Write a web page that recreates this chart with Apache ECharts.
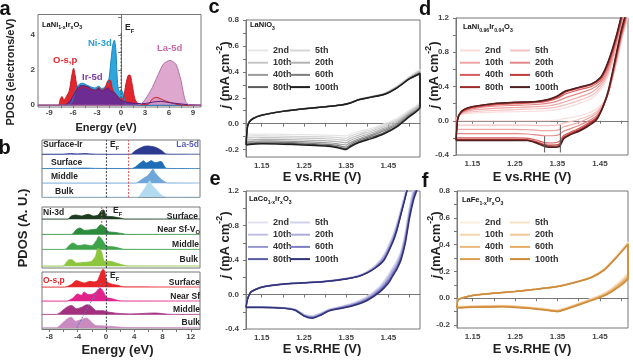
<!DOCTYPE html>
<html><head><meta charset="utf-8">
<script src="https://cdn.jsdelivr.net/npm/echarts@6/dist/echarts.min.js"></script>
<style>html,body{margin:0;padding:0;background:#fff}#c{width:633px;height:361px}</style>
</head><body><div id="c"></div><script>
// ---------------- DATA ----------------
// Panel a: PDOS (electrons/eV) vs energy (eV)
const aOsp = [[-10.4,0],[-7.9,0],[-7.6,0.35],[-7.4,0.5],[-7.15,0.3],[-6.85,0.5],[-6.5,0.8],[-6.2,1.6],[-5.95,2.1],[-5.75,1.7],[-5.5,1.05],[-5.2,0.95],[-4.8,1.05],[-4.3,1.0],[-3.8,0.9],[-3.3,0.85],[-2.8,1.0],[-2.4,0.85],[-2.0,1.0],[-1.65,1.4],[-1.35,1.42],[-1.1,0.95],[-0.8,0.7],[-0.4,0.5],[0,0.35],[0.3,0.45],[0.6,1.2],[0.9,1.7],[1.1,1.72],[1.4,1.15],[1.7,0.4],[2.1,0.1],[2.6,0.04],[3.4,0.06],[3.9,0.35],[4.4,0.45],[4.9,0.38],[5.5,0.25],[6.2,0.15],[7,0.05],[8,0],[10,0]];
const aNi3d = [[-10.4,0],[-6.6,0],[-6.1,0.25],[-5.6,1.0],[-5.2,1.2],[-4.8,1.25],[-4.3,1.15],[-3.8,1.05],[-3.3,0.98],[-2.8,1.08],[-2.4,0.95],[-2.0,1.05],[-1.6,1.3],[-1.3,2.4],[-1.05,3.4],[-0.85,3.7],[-0.65,3.1],[-0.45,1.3],[-0.25,0.8],[0.05,0.85],[0.3,0.6],[0.5,0.15],[0.8,0],[10,0]];
const aIr5d = [[-10.4,0],[-7.1,0],[-6.7,0.12],[-6.3,0.3],[-5.8,0.7],[-5.4,1.0],[-5.0,1.12],[-4.5,1.1],[-4.0,1.02],[-3.6,0.9],[-3.2,0.85],[-2.8,0.95],[-2.4,0.8],[-2.0,0.9],[-1.6,0.98],[-1.3,0.82],[-1.0,0.75],[-0.6,0.6],[-0.3,0.4],[0,0.28],[0.5,0.2],[1,0.15],[2,0.1],[3,0.1],[4,0.18],[5,0.22],[6,0.15],[7,0.1],[8,0.05],[9,0.02],[10,0]];
const aLa5d = [[-10.4,0],[1.8,0],[2.4,0.05],[2.9,0.25],[3.4,0.6],[3.9,1.0],[4.4,1.5],[4.9,2.0],[5.3,2.35],[5.7,2.48],[6.1,2.55],[6.5,2.48],[6.9,2.3],[7.2,1.9],[7.5,1.4],[7.8,0.7],[8.1,0.2],[8.5,0.03],[10,0]];
const aEF = [[0,0],[0,4.1]];
const aXTicks = [-9,-7.5,-6,-4.5,-3,-1.5,0,1.5,3,4.5,6,7.5,9];
const aXLabels = [-9,-6,-3,0,3,6,9];
const aYTicks = [0,1,2,3,4,5];
const aYLabels = [0,2,4];

// Panel b: layer-resolved PDOS (A.U.)
const bLaSurfIr = [[-9.05,0.3],[-6,0.4],[-5,0.9],[-4,0.6],[-3,1.0],[-2,0.5],[-1,0.3],[1,0.2],[3.2,0.3],[3.6,0.6],[4.0,3.0],[4.5,5.2],[5.0,7.0],[5.5,8.3],[6.0,8.5],[6.5,8.0],[7.0,7.2],[7.5,5.5],[8.0,3.2],[8.5,0.6],[9.5,0.3],[13.3,0.3]];
const bLaSurf = [[-9.05,0.3],[-5,0.4],[-3,0.7],[-1.5,0.4],[3.5,0.3],[3.8,0.5],[4.2,2.0],[4.6,4.5],[5.0,6.5],[5.3,8.0],[5.7,5.8],[6.1,7.0],[6.4,8.2],[6.8,6.5],[7.1,6.2],[7.5,7.0],[7.8,7.3],[8.2,3.5],[8.5,0.6],[9.5,0.3],[13.3,0.3]];
const bLaMid = [[-9.05,0.3],[4.2,0.3],[4.8,2.5],[5.3,5.0],[5.8,7.0],[6.2,10.0],[6.65,14.0],[6.9,11.0],[7.3,7.5],[7.8,4.0],[8.3,1.5],[8.7,0.4],[13.3,0.3]];
const bLaBulk = [[-9.05,0.3],[4.5,0.3],[5.0,4.0],[5.5,9.0],[5.9,14.0],[6.2,16.5],[6.5,12.0],[7.0,8.5],[7.5,4.5],[8.0,1.5],[8.5,0.4],[13.3,0.3]];
const bNiSurf = [[-9.05,0.3],[-5.4,0.3],[-4.9,3.3],[-4.2,4.3],[-3.5,3.3],[-2.5,5.0],[-1.8,3.3],[-1.1,4.3],[-0.65,8.7],[-0.32,9.3],[0.06,3.3],[0.77,2.7],[1.47,2.0],[2.18,1.0],[2.65,0.3],[13.3,0.3]];
const bNiNear = [[-9.05,0.3],[-4.9,0.3],[-4.2,5.0],[-3.7,6.7],[-3.0,4.3],[-2.06,5.0],[-1.35,5.7],[-0.74,10.0],[-0.18,7.7],[0.3,3.3],[1.24,2.3],[2.42,1.0],[2.9,0.3],[13.3,0.3]];
const bNiMid = [[-9.05,0.3],[-5.85,0.3],[-5.1,5.0],[-4.65,6.7],[-3.95,4.0],[-3.0,5.0],[-2.06,4.0],[-1.35,9.3],[-1.02,13.3],[-0.55,10.0],[0.06,4.0],[1.24,2.7],[2.65,0.4],[13.3,0.3]];
const bNiBulk = [[-9.05,0.3],[-6.1,0.3],[-5.36,6.0],[-4.89,6.7],[-4.18,3.3],[-3.0,4.0],[-2.06,5.0],[-1.49,10.0],[-1.12,18.0],[-0.65,15.0],[-0.18,5.0],[0.53,5.0],[1.71,2.7],[3.1,0.4],[13.3,0.3]];
const bOSurf = [[-9.05,0.3],[-5.85,0.3],[-4.9,2.7],[-4.2,6.7],[-3.57,5.3],[-3.0,4.3],[-2.3,6.0],[-1.68,5.3],[-1.21,6.7],[-0.84,12.7],[-0.41,18.0],[-0.18,16.0],[0.1,6.0],[0.77,3.3],[1.71,2.0],[2.42,0.5],[13.3,0.3]];
const bONear = [[-9.05,0.3],[-5.6,0.3],[-4.65,3.3],[-4.04,7.3],[-3.48,6.0],[-3.1,9.3],[-2.53,6.7],[-1.82,7.3],[-1.21,10.7],[-0.84,13.3],[-0.41,10.0],[0.06,4.0],[0.77,2.7],[2.18,0.4],[13.3,0.3]];
const bOMid = [[-9.05,0.3],[-7.0,0.3],[-6.3,3.3],[-5.6,7.3],[-4.89,9.3],[-4.18,6.0],[-3.48,7.3],[-2.63,10.0],[-2.06,8.3],[-1.35,4.0],[-0.41,4.0],[0.3,2.7],[1.71,1.3],[3.6,0.8],[6.9,1.7],[9.3,0.3],[13.3,0.3]];
const bOBulk = [[-9.05,0.3],[-7.0,0.3],[-6.3,4.0],[-5.45,9.3],[-4.89,10.7],[-4.32,6.7],[-3.57,8.3],[-2.77,10.0],[-2.06,6.0],[-1.49,2.7],[-0.18,2.0],[1.71,1.0],[3.1,0.4],[13.3,0.3]];
const bEFLine = 0.06;
const bRedLa = 3.2;
const bRedNi = -0.6;
const bBlueSlant = [[-0.65,46],[-4.2,0.5]];
const bXTicks = [-8,-6,-4,-2,0,2,4,6,8,10,12];
const bXLabels = [-8,-4,0,4,8,12];

// CV panels c-f : j (mA cm-2) vs E (V vs RHE)
const cycles = ['2nd','5th','10th','20th','40th','60th','80th','100th'];
const cE = [1.113,1.116,1.12,1.13,1.15,1.2,1.25,1.3,1.34,1.36,1.38,1.41,1.44,1.47,1.5,1.525,
            1.525,1.5,1.47,1.44,1.41,1.38,1.36,1.35,1.33,1.3,1.25,1.2,1.15,1.12,1.113];
const c2nd  = [-0.08,-0.02,0.015,0.045,0.07,0.098,0.117,0.132,0.147,0.163,0.19,0.212,0.235,0.29,0.365,0.42, 0.17,0.105,0.04,0.0,-0.035,-0.06,-0.08,-0.095,-0.09,-0.088,-0.085,-0.082,-0.08,-0.08,-0.08];
const c5th  = [-0.095,-0.022,0.014,0.044,0.069,0.097,0.117,0.132,0.147,0.162,0.189,0.21,0.233,0.287,0.36,0.413, 0.162,0.097,0.03,-0.01,-0.047,-0.074,-0.096,-0.113,-0.106,-0.102,-0.099,-0.096,-0.094,-0.095,-0.095];
const c10th = [-0.11,-0.024,0.013,0.043,0.068,0.097,0.116,0.131,0.146,0.162,0.188,0.209,0.231,0.284,0.356,0.407, 0.154,0.089,0.02,-0.022,-0.058,-0.088,-0.113,-0.13,-0.122,-0.116,-0.112,-0.109,-0.107,-0.11,-0.11];
const c20th = [-0.125,-0.026,0.012,0.042,0.067,0.096,0.116,0.131,0.146,0.161,0.187,0.208,0.229,0.281,0.353,0.401, 0.146,0.081,0.01,-0.034,-0.072,-0.103,-0.13,-0.148,-0.139,-0.131,-0.126,-0.122,-0.12,-0.125,-0.125];
const c40th = [-0.138,-0.027,0.011,0.041,0.066,0.096,0.115,0.13,0.145,0.161,0.186,0.207,0.228,0.279,0.35,0.396, 0.139,0.074,0.0,-0.045,-0.084,-0.116,-0.146,-0.165,-0.155,-0.145,-0.139,-0.134,-0.132,-0.138,-0.138];
const c60th = [-0.148,-0.028,0.01,0.04,0.065,0.095,0.115,0.13,0.145,0.16,0.185,0.206,0.227,0.277,0.348,0.392, 0.133,0.067,-0.01,-0.055,-0.094,-0.127,-0.16,-0.181,-0.168,-0.157,-0.15,-0.144,-0.142,-0.148,-0.148];
const c80th = [-0.157,-0.029,0.01,0.04,0.065,0.095,0.115,0.13,0.145,0.16,0.185,0.205,0.226,0.276,0.346,0.388, 0.128,0.06,-0.018,-0.068,-0.105,-0.137,-0.17,-0.192,-0.178,-0.165,-0.158,-0.151,-0.149,-0.155,-0.157];
const c100th= [-0.165,-0.03,0.01,0.04,0.065,0.095,0.115,0.13,0.145,0.16,0.185,0.205,0.225,0.275,0.345,0.385, 0.125,0.055,-0.025,-0.078,-0.115,-0.145,-0.178,-0.2,-0.185,-0.172,-0.165,-0.158,-0.155,-0.16,-0.165];

const dE = [1.112,1.115,1.12,1.13,1.15,1.2,1.25,1.3,1.33,1.35,1.37,1.4,1.43,1.45,1.46,1.47,1.48,1.49,1.5,1.516,
            1.516,1.5,1.49,1.48,1.47,1.46,1.45,1.44,1.42,1.4,1.38,1.365,1.355,1.34,1.32,1.3,1.28,1.25,1.2,1.15,1.112];
const d2nd  = [0.0,0.05,0.07,0.08,0.09,0.1,0.105,0.112,0.12,0.13,0.152,0.2,0.26,0.35,0.42,0.53,0.68,0.86,1.07,1.4, 1.25,0.92,0.69,0.5,0.33,0.23,0.17,0.13,0.085,0.055,0.035,0.025,0.01,0.005,0.0,0.0,0.0,0.0,0.0,0.0,0.0];
const d5th  = [-0.05,0.04,0.07,0.09,0.105,0.12,0.13,0.14,0.148,0.162,0.188,0.235,0.295,0.38,0.45,0.56,0.71,0.89,1.1,1.42, 1.28,0.94,0.71,0.51,0.33,0.22,0.15,0.1,0.05,0.015,-0.01,-0.025,-0.045,-0.055,-0.058,-0.055,-0.052,-0.05,-0.05,-0.05,-0.05];
const d10th = [-0.1,0.03,0.07,0.1,0.125,0.145,0.155,0.165,0.175,0.195,0.225,0.275,0.33,0.41,0.48,0.59,0.74,0.92,1.12,1.45, 1.3,0.96,0.73,0.52,0.33,0.21,0.13,0.08,0.02,-0.02,-0.05,-0.07,-0.1,-0.115,-0.115,-0.11,-0.105,-0.1,-0.1,-0.1,-0.1];
const d20th = [-0.15,0.02,0.07,0.11,0.14,0.17,0.18,0.19,0.205,0.23,0.27,0.32,0.37,0.44,0.51,0.62,0.77,0.95,1.15,1.48, 1.32,0.98,0.75,0.53,0.33,0.2,0.11,0.05,-0.01,-0.055,-0.095,-0.12,-0.16,-0.175,-0.175,-0.165,-0.155,-0.15,-0.15,-0.15,-0.15];
const d40th = [-0.2,0.0,0.07,0.115,0.15,0.185,0.2,0.21,0.232,0.262,0.315,0.36,0.4,0.465,0.54,0.65,0.8,0.97,1.17,1.5, 1.35,1.0,0.77,0.54,0.33,0.19,0.095,0.03,-0.035,-0.09,-0.135,-0.17,-0.24,-0.26,-0.255,-0.225,-0.205,-0.2,-0.2,-0.2,-0.2];
const d60th = [-0.218,0.0,0.075,0.125,0.16,0.195,0.21,0.22,0.243,0.277,0.335,0.38,0.42,0.485,0.56,0.675,0.82,0.99,1.19,1.52, 1.37,1.02,0.79,0.555,0.34,0.195,0.09,0.02,-0.05,-0.105,-0.15,-0.19,-0.27,-0.285,-0.278,-0.243,-0.222,-0.218,-0.218,-0.218,-0.218];
const d80th = [-0.225,0.0,0.08,0.13,0.165,0.2,0.215,0.224,0.248,0.285,0.345,0.388,0.428,0.495,0.57,0.69,0.84,1.01,1.21,1.54, 1.39,1.04,0.81,0.57,0.35,0.2,0.085,0.01,-0.06,-0.115,-0.158,-0.2,-0.285,-0.298,-0.29,-0.252,-0.228,-0.225,-0.225,-0.225,-0.225];
const d100th= [-0.23,0.0,0.08,0.13,0.165,0.2,0.215,0.225,0.25,0.29,0.35,0.39,0.43,0.5,0.58,0.7,0.85,1.02,1.22,1.55, 1.4,1.05,0.82,0.58,0.36,0.2,0.08,0.0,-0.07,-0.125,-0.165,-0.21,-0.3,-0.31,-0.3,-0.26,-0.232,-0.23,-0.23,-0.23,-0.23];
const dMarkE = [1.32, 1.357];
const dMarkLow = [-0.37, -0.37];
const dMarkHigh = [-0.18, -0.05];

const eE = [1.113,1.116,1.125,1.15,1.2,1.25,1.3,1.35,1.38,1.4,1.42,1.44,1.46,1.47,1.48,1.49,1.5,1.525,
            1.525,1.51,1.5,1.49,1.48,1.47,1.46,1.45,1.43,1.4,1.37,1.34,1.31,1.29,1.27,1.25,1.23,1.2,1.15,1.113];
const e2nd  = [-0.143,-0.055,0.035,0.09,0.125,0.14,0.156,0.19,0.225,0.27,0.345,0.47,0.68,0.83,1.0,1.18,1.36,1.85, 1.49,1.24,1.02,0.73,0.51,0.395,0.315,0.235,0.1,-0.02,-0.09,-0.132,-0.169,-0.212,-0.246,-0.228,-0.171,-0.151,-0.143,-0.143];
const e5th  = [-0.144,-0.056,0.034,0.089,0.124,0.139,0.155,0.188,0.222,0.266,0.338,0.46,0.67,0.82,0.99,1.17,1.35,1.84, 1.47,1.22,1.0,0.71,0.495,0.38,0.3,0.22,0.09,-0.027,-0.095,-0.136,-0.172,-0.216,-0.25,-0.231,-0.173,-0.152,-0.144,-0.144];
const e10th = [-0.145,-0.057,0.033,0.088,0.123,0.138,0.154,0.186,0.219,0.262,0.332,0.45,0.66,0.8,0.98,1.16,1.34,1.83, 1.45,1.2,0.98,0.69,0.48,0.365,0.285,0.205,0.08,-0.034,-0.1,-0.14,-0.175,-0.22,-0.254,-0.234,-0.175,-0.153,-0.145,-0.145];
const e20th = [-0.146,-0.058,0.032,0.087,0.122,0.137,0.153,0.185,0.217,0.259,0.326,0.44,0.645,0.79,0.965,1.15,1.335,1.82, 1.43,1.18,0.96,0.67,0.465,0.35,0.27,0.19,0.07,-0.041,-0.105,-0.144,-0.178,-0.224,-0.258,-0.237,-0.177,-0.154,-0.146,-0.146];
const e40th = [-0.147,-0.058,0.031,0.086,0.121,0.136,0.152,0.183,0.215,0.256,0.32,0.43,0.63,0.775,0.95,1.14,1.33,1.81, 1.41,1.16,0.94,0.65,0.45,0.335,0.255,0.175,0.06,-0.048,-0.11,-0.148,-0.181,-0.228,-0.262,-0.24,-0.179,-0.155,-0.147,-0.147];
const e60th = [-0.148,-0.059,0.031,0.086,0.121,0.136,0.151,0.182,0.213,0.254,0.316,0.415,0.62,0.76,0.94,1.13,1.325,1.8, 1.39,1.14,0.92,0.63,0.435,0.32,0.24,0.16,0.05,-0.055,-0.115,-0.152,-0.184,-0.232,-0.266,-0.243,-0.181,-0.156,-0.148,-0.148];
const e80th = [-0.149,-0.06,0.03,0.085,0.12,0.135,0.15,0.181,0.211,0.252,0.313,0.405,0.61,0.75,0.935,1.125,1.32,1.8, 1.37,1.12,0.9,0.61,0.42,0.305,0.225,0.145,0.04,-0.062,-0.12,-0.156,-0.187,-0.236,-0.27,-0.246,-0.183,-0.157,-0.149,-0.149];
const e100th= [-0.15,-0.06,0.03,0.085,0.12,0.135,0.15,0.18,0.21,0.25,0.31,0.4,0.6,0.74,0.93,1.12,1.32,1.8, 1.35,1.1,0.88,0.59,0.4,0.29,0.21,0.13,0.03,-0.07,-0.125,-0.16,-0.19,-0.24,-0.275,-0.25,-0.185,-0.158,-0.15,-0.15];

const fE = [1.113,1.116,1.13,1.15,1.2,1.25,1.3,1.35,1.4,1.43,1.46,1.49,1.516,
            1.516,1.49,1.465,1.435,1.4,1.37,1.35,1.32,1.28,1.22,1.15,1.113];
const f2nd  = [-0.06,-0.008,0.008,0.023,0.04,0.053,0.07,0.09,0.13,0.162,0.222,0.322,0.42, 0.2,0.11,0.05,0.005,-0.036,-0.069,-0.086,-0.076,-0.064,-0.052,-0.056,-0.06];
const f5th  = [-0.062,-0.009,0.008,0.023,0.04,0.053,0.07,0.09,0.129,0.161,0.22,0.32,0.417, 0.193,0.105,0.046,0.003,-0.038,-0.071,-0.088,-0.078,-0.066,-0.054,-0.058,-0.062];
const f10th = [-0.064,-0.009,0.007,0.022,0.039,0.052,0.069,0.089,0.128,0.16,0.218,0.317,0.414, 0.186,0.1,0.043,0.0,-0.04,-0.073,-0.09,-0.08,-0.067,-0.056,-0.06,-0.064];
const f20th = [-0.066,-0.01,0.007,0.022,0.039,0.052,0.069,0.089,0.127,0.159,0.216,0.315,0.41, 0.179,0.095,0.039,-0.002,-0.042,-0.075,-0.092,-0.082,-0.069,-0.058,-0.061,-0.066];
const f40th = [-0.068,-0.01,0.006,0.021,0.038,0.051,0.068,0.088,0.127,0.158,0.214,0.313,0.407, 0.172,0.09,0.036,-0.005,-0.044,-0.077,-0.094,-0.084,-0.07,-0.059,-0.063,-0.068];
const f60th = [-0.069,-0.011,0.006,0.021,0.038,0.051,0.068,0.088,0.126,0.157,0.212,0.311,0.404, 0.165,0.085,0.032,-0.007,-0.046,-0.079,-0.096,-0.085,-0.072,-0.06,-0.064,-0.069];
const f80th = [-0.071,-0.011,0.005,0.02,0.037,0.05,0.067,0.087,0.126,0.156,0.211,0.309,0.402, 0.157,0.08,0.029,-0.01,-0.048,-0.081,-0.098,-0.087,-0.073,-0.062,-0.066,-0.071];
const f100th= [-0.072,-0.012,0.005,0.02,0.037,0.05,0.067,0.087,0.125,0.155,0.21,0.308,0.4, 0.15,0.075,0.025,-0.012,-0.05,-0.082,-0.1,-0.088,-0.075,-0.063,-0.067,-0.072];

const cvXTicks = [1.15,1.2,1.25,1.3,1.35,1.4,1.45,1.5];
const cvXLabels = [1.15,1.25,1.35,1.45];
const cfYTicks = [-0.2,-0.1,0,0.1,0.2,0.3,0.4,0.5,0.6,0.7,0.8];
const cfYLabels = [-0.2,0,0.2,0.4,0.6,0.8];
const deYTicks = [-0.4,-0.2,0,0.2,0.4,0.6,0.8,1.0,1.2];
const deYLabels = [-0.4,0,0.4,0.8,1.2];

// ---------------- STYLE / LAYOUT ----------------
const FONT = "'Liberation Sans', Arial, Helvetica, sans-serif";
const AX = '#777';
const grids=[], xAxes=[], yAxes=[], series=[], legends=[], graphics=[];

function addGrid(g, xa, ya){
  grids.push(Object.assign({show:false}, g));
  const i = grids.length-1;
  xAxes.push(Object.assign({gridIndex:i, type:'value'}, xa));
  yAxes.push(Object.assign({gridIndex:i, type:'value'}, ya));
  return i;
}
function frame(g){ return Object.assign({show:true, borderColor:AX, borderWidth:1, backgroundColor:'transparent'}, g); }
function shownAxis(min, max, ticks, labels, fmt, margin){
  return {min, max, axisLine:{show:true, lineStyle:{color:AX, width:1}},
    axisTick:{show:true, customValues:ticks, length:3, inside:false, lineStyle:{color:AX}},
    axisLabel:{show:true, customValues:labels, formatter:fmt, margin, fontSize:8, fontWeight:'bold', color:'#444', fontFamily:FONT},
    splitLine:{show:false}};
}
function hidden(min,max){ return {show:false, min, max, splitLine:{show:false}}; }
const intFmt = v => String(Math.round(v));
const f2 = v => v.toFixed(2);
const f1 = v => v.toFixed(1);

// ---- Panel a ----
const ga = addGrid(frame({left:38, top:14.5, width:163, height:92.5}),
  shownAxis(-10.4, 10, aXTicks, aXLabels, intFmt, 2),
  shownAxis(-0.1, 5.16, aYTicks, aYLabels, intFmt, 3));
function areaSeries(gi, data, line, fill, w){
  return {type:'line', xAxisIndex:gi, yAxisIndex:gi, data, symbol:'none', smooth:0.3, clip:false, silent:true,
    lineStyle:{color:line, width:w||0.8}, areaStyle:{color:fill, opacity:1}, z:2};
}
series.push(areaSeries(ga, aNi3d, '#1b86c0', '#2ea6dd', 1));
series.push(areaSeries(ga, aOsp, '#c81e25', '#e3262d', 1));
series.push(areaSeries(ga, aIr5d, '#5a2280', '#6c2c91', 1));
series.push(areaSeries(ga, aLa5d, '#b76fa3', 'rgba(218,160,202,0.92)', 1));
series.push({type:'line', xAxisIndex:ga, yAxisIndex:ga, data:aEF, symbol:'none', silent:true,
  lineStyle:{color:'#444', width:1, type:[2,1.5]}, z:5});

// ---- Panel b ----
const bX = [-9.05, 13.3];
const boxes = [
  {top:140, h:57.5, base:[154.5,168.8,183.3,197.3], rowH:14.4, curves:[bLaSurfIr,bLaSurf,bLaMid,bLaBulk],
   colors:['#2b3a8f','#1f6eb5','#6fa6da','#b2daf0']},
  {top:207, h:61, base:[219.3,234.7,249.7,266.3], rowH:15.3, curves:[bNiSurf,bNiNear,bNiMid,bNiBulk],
   colors:['#1d3b1f','#2b8a3c','#3fa34b','#8cc63f']},
  {top:272, h:57, base:[287.3,301.3,314.7,328], rowH:13.6, curves:[bOSurf,bONear,bOMid,bOBulk],
   colors:['#e8262a','#e0228a','#a2307f','#c98abf']}
];
const boxFrames = [];
boxes.forEach((b, bi) => {
  b.curves.forEach((cur, ri) => {
    const gi = addGrid({left:42, top:b.base[ri]-b.rowH, width:158, height:b.rowH},
      hidden(bX[0], bX[1]), hidden(0, b.rowH));
    series.push(areaSeries(gi, cur, b.colors[ri], b.colors[ri], 0.8));
  });
});
boxes.forEach((b, bi) => {
  const xa = bi === 2 ? shownAxis(bX[0], bX[1], bXTicks, bXLabels, intFmt, 4) : hidden(bX[0], bX[1]);
  const gi = addGrid(frame({left:42, top:b.top, width:158, height:b.h}), xa, hidden(0, b.h));
  boxFrames.push(gi);
  series.push({type:'line', xAxisIndex:gi, yAxisIndex:gi, data:[[bEFLine,0],[bEFLine,b.h]], symbol:'none', silent:true,
    lineStyle:{color:'#3a3a50', width:1, type:[2,1.5]}, z:6});
});
series.push({type:'line', xAxisIndex:boxFrames[0], yAxisIndex:boxFrames[0], data:[[bRedLa,0],[bRedLa,57.5]], symbol:'none', silent:true,
  lineStyle:{color:'#e05050', width:1, type:[2,1.5]}, z:6});
series.push({type:'line', xAxisIndex:boxFrames[1], yAxisIndex:boxFrames[1], data:[[bRedNi,61],[bRedNi,39]], symbol:'none', silent:true,
  lineStyle:{color:'#e05050', width:1, type:[2,1.5]}, z:6});
series.push({type:'line', xAxisIndex:boxFrames[2], yAxisIndex:boxFrames[2], data:bBlueSlant, symbol:'none', silent:true,
  lineStyle:{color:'#5a78c8', width:1, type:[2,1.5]}, z:6});

// ---- CV panels ----
const cvPanels = [
  {key:'c', grid:{left:246, top:20, width:174, height:137}, x:[1.1128,1.525], y:[-0.257,0.8], yt:cfYTicks, yl:cfYLabels,
   E:cE, loops:[c2nd,c5th,c10th,c20th,c40th,c60th,c80th,c100th],
   colors:['#e6e6e6','#d6d6d6','#c6c6c6','#b2b2b2','#9a9a9a','#7e7e7e','#5a5a5a','#1e1e1e'], leg:[248,290,45]},
  {key:'d', grid:{left:456, top:18, width:172, height:137}, x:[1.1117,1.516], y:[-0.4,1.2], yt:deYTicks, yl:deYLabels,
   E:dE, loops:[d2nd,d5th,d10th,d20th,d40th,d60th,d80th,d100th],
   colors:['#fadcdc','#f5c2c2','#efa4a4','#e68686','#d65a5a','#c23a3a','#9c2a2a','#4e2020'], leg:[460,510,45]},
  {key:'e', grid:{left:246, top:191, width:174, height:138}, x:[1.1128,1.525], y:[-0.4,1.2], yt:deYTicks, yl:deYLabels,
   E:eE, loops:[e2nd,e5th,e10th,e20th,e40th,e60th,e80th,e100th],
   colors:['#e2e2f3','#d2d2ed','#c0c0e5','#acacdb','#9696cf','#7c7cc1','#5a5aa6','#323278'], leg:[248,290,217]},
  {key:'f', grid:{left:457, top:191, width:171, height:137}, x:[1.1133,1.516], y:[-0.222,0.8], yt:cfYTicks, yl:cfYLabels,
   E:fE, loops:[f2nd,f5th,f10th,f20th,f40th,f60th,f80th,f100th],
   colors:['#fbeedd','#f8e2c6','#f4d5ad','#f0c894','#ebba7e','#e5ac68','#dc9d54','#cf8b3c'], leg:[460,510,217]}
];
const cvGrid = {};
cvPanels.forEach(p => {
  const gi = addGrid(frame(p.grid), shownAxis(p.x[0], p.x[1], cvXTicks, cvXLabels, f2, 5),
    shownAxis(p.y[0], p.y[1], p.yt, p.yl, f1, 7));
  cvGrid[p.key] = gi;
  cycles.forEach((cyc, k) => {
    series.push({type:'line', name:p.key+'|'+cyc, xAxisIndex:gi, yAxisIndex:gi,
      data:p.E.map((e,i)=>[e, p.loops[k][i]]), symbol:'none', smooth:0.2, silent:true,
      lineStyle:{color:p.colors[k], width:k===7?1.5:1.2}, itemStyle:{color:p.colors[k]}, z:2+k*0.01});
  });
  const legBase = {orient:'vertical', top:p.leg[2], itemWidth:20, itemHeight:2, itemGap:1.2, padding:0, icon:'rect',
    selectedMode:false, formatter:n=>n.split('|')[1],
    textStyle:{fontSize:9, fontWeight:'bold', color:'#333', fontFamily:FONT, lineHeight:11}};
  legends.push(Object.assign({}, legBase, {left:p.leg[0], data:[0,2,4,6].map(k=>p.key+'|'+cycles[k])}));
  legends.push(Object.assign({}, legBase, {left:p.leg[1], data:[1,3,5,7].map(k=>p.key+'|'+cycles[k])}));
});
dMarkE.forEach((e,i) => {
  series.push({type:'line', xAxisIndex:cvGrid.d, yAxisIndex:cvGrid.d, data:[[e,dMarkLow[i]],[e,dMarkHigh[i]]],
    symbol:'none', silent:true, lineStyle:{color:'#555', width:1}, z:8});
});

// ---- Texts ----
function R(size, color){
  const b = {fontWeight:'bold', fontFamily:FONT, fill:color};
  return {
    n:Object.assign({fontSize:size, lineHeight:size*1.5}, b),
    s:Object.assign({fontSize:size*0.68, lineHeight:size*0.7, verticalAlign:'bottom'}, b),
    u:Object.assign({fontSize:size*0.68, lineHeight:size*0.7, verticalAlign:'top'}, b),
    i:Object.assign({fontSize:size, lineHeight:size*1.5, fontStyle:'italic'}, b)
  };
}
function T(x, y, text, o){
  o = o || {};
  const size = o.size || 9, color = o.color || '#222';
  const st = {text, fill:color, fontSize:size, fontWeight:'bold', fontFamily:FONT,
    align:o.align||'left', verticalAlign:o.va||'middle'};
  if (o.rich) st.rich = R(size, color);
  graphics.push({type:'text', x, y, rotation:o.rot||0, z:100, silent:true, style:st});
}
const UP = Math.PI/2;
// panel letters
T(5,9,'a',{size:20,align:'center',color:'#111'});
T(4.5,148,'b',{size:20,align:'center',color:'#111'});
T(214,7.5,'c',{size:20,align:'center',color:'#111'});
T(425,9.5,'d',{size:20,align:'center',color:'#111'});
T(215,179,'e',{size:20,align:'center',color:'#111'});
T(425,181,'f',{size:20,align:'center',color:'#111'});
// panel a
T(11,72,'PDOS (electrons/eV)',{size:11,align:'center',rot:UP});
T(106,127.5,'Energy (eV)',{size:11,align:'center'});
T(42,24.5,'{n|LaNi}{s|1-x}{n|Ir}{s|x}{n|O}{s|3}',{size:7.5,rich:true,color:'#111'});
T(125,28,'{n|E}{s|F}',{size:8.5,rich:true,color:'#222'});
T(88,43,'Ni-3d',{size:9.5,color:'#2a9fd6'});
T(53,60,'O-s,p',{size:9.5,color:'#e3262d'});
T(82,77,'Ir-5d',{size:9.5,color:'#7a3aa8'});
T(157,48,'La-5d',{size:9.5,color:'#c869a8'});
// panel b
T(23,228,'PDOS (A. U.)',{size:13,align:'center',rot:UP});
T(117.5,350,'Energy (eV)',{size:13,align:'center'});
T(43,145,'Surface-Ir',{size:8.5});
T(51,162.5,'Surface',{size:8.5});
T(51,177,'Middle',{size:8.5});
T(55,191.5,'Bulk',{size:8.5});
T(199,145,'La-5d',{size:8.5,align:'right',color:'#5a5fb0'});
T(110,145,'{n|E}{s|F}',{size:8.5,rich:true});
T(43,212.5,'Ni-3d',{size:8.5});
T(198,217,'Surface',{size:8.5,align:'right'});
T(200,229.5,'{n|Near Sf-V}{s|O}',{size:8.5,align:'right',rich:true});
T(199,244.5,'Middle',{size:8.5,align:'right'});
T(198,259.5,'Bulk',{size:8.5,align:'right'});
T(113,211,'{n|E}{s|F}',{size:8.5,rich:true});
T(43,281,'O-s,p',{size:8.5,color:'#e8262a'});
T(200,283,'Surface',{size:8.5,align:'right'});
T(200,296.5,'Near Sf',{size:8.5,align:'right'});
T(200,310,'Middle',{size:8.5,align:'right'});
T(200,323,'Bulk',{size:8.5,align:'right'});
T(110,276,'{n|E}{s|F}',{size:8.5,rich:true});
// CV panels
const jTitle = '{i|j}{n| (mA cm}{u|-2}{n|)}';
T(225,75,jTitle,{size:13,align:'center',rot:UP,rich:true});
T(434,75,jTitle,{size:13,align:'center',rot:UP,rich:true});
T(225,245,jTitle,{size:13,align:'center',rot:UP,rich:true});
T(436,245,jTitle,{size:13,align:'center',rot:UP,rich:true});
T(322,177,'E vs.RHE (V)',{size:13,align:'center'});
T(532,177,'E vs.RHE (V)',{size:13,align:'center'});
T(322,349,'E vs.RHE (V)',{size:13,align:'center'});
T(532,349,'E vs.RHE (V)',{size:13,align:'center'});
T(250,25,'{n|LaNiO}{s|3}',{size:7.5,rich:true,color:'#111'});
T(463,27,'{n|LaNi}{s|0.96}{n|Ir}{s|0.04}{n|O}{s|3}',{size:7.5,rich:true,color:'#111'});
T(249,199,'{n|LaCo}{s|1-x}{n|Ir}{s|x}{n|O}{s|3}',{size:7.5,rich:true,color:'#111'});
T(462,200,'{n|LaFe}{s|1-x}{n|Ir}{s|x}{n|O}{s|3}',{size:7.5,rich:true,color:'#111'});

const chart = echarts.init(document.getElementById('c'));
chart.setOption({
  animation:false, backgroundColor:'#fff',
  grid:grids, xAxis:xAxes, yAxis:yAxes, series, legend:legends, graphic:graphics
});
</script></body></html>
